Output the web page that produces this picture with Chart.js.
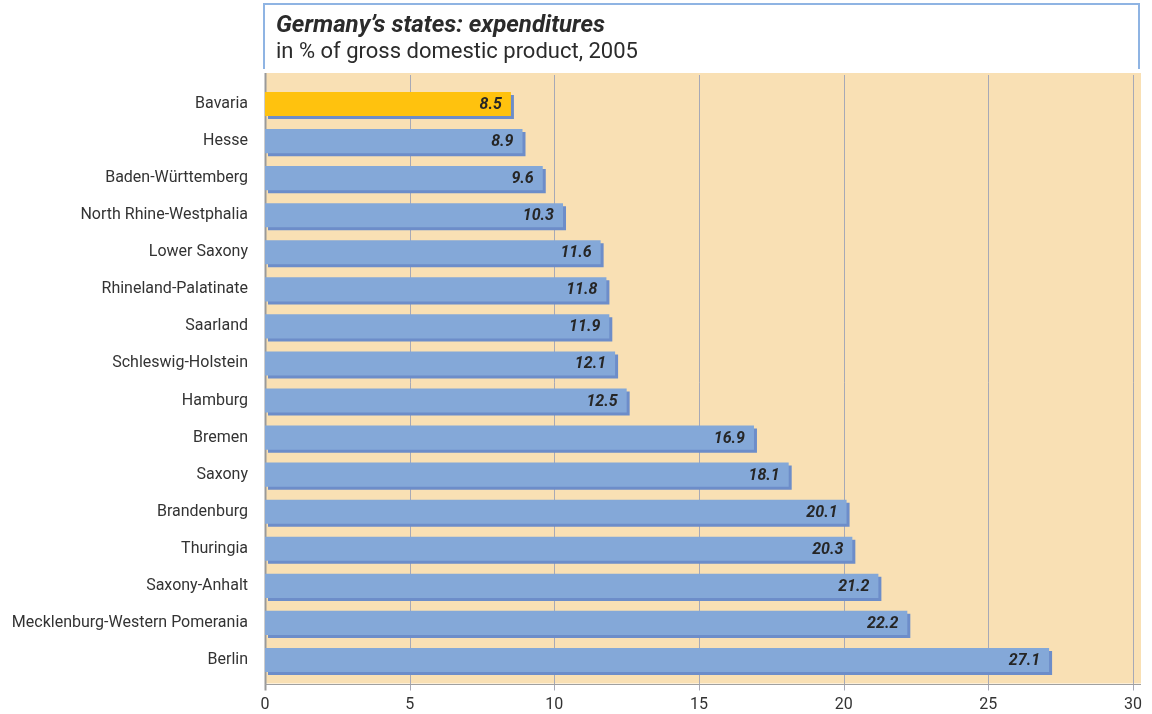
<!DOCTYPE html>
<html>
<head>
<meta charset="utf-8">
<script src="https://cdn.jsdelivr.net/npm/chart.js@4/dist/chart.umd.min.js"></script>
<style>
  html, body { margin: 0; padding: 0; background: #fff; }
  #wrap { position: relative; width: 1152px; height: 714px; }
  #title {
    position: absolute; left: 263px; top: 3px; width: 862px; height: 64px;
    border: 2px solid #8fb4e3; border-bottom: none;
    padding-left: 11px; font-family: Roboto, "Noto Sans", sans-serif; color: #2b2b2b;
  }
  #title .main { font-size: 24px; font-weight: bold; font-style: italic; line-height: 26px; margin-top: 6px; }
  #title .sub { font-size: 22px; line-height: 27px; }
  canvas { position: absolute; left: 0; top: 0; }
</style>
</head>
<body>
<div id="wrap">
  <canvas id="barChart" width="1152" height="714"></canvas>
  <div id="title">
    <div class="main">Germany’s states: expenditures</div>
    <div class="sub">in % of gross domestic product, 2005</div>
  </div>
</div>
<script>
// States and their expenditure share of GDP
const states = [
  "Bavaria", "Hesse", "Baden-Württemberg", "North Rhine-Westphalia", "Lower Saxony",
  "Rhineland-Palatinate", "Saarland", "Schleswig-Holstein", "Hamburg", "Bremen",
  "Saxony", "Brandenburg", "Thuringia", "Saxony-Anhalt", "Mecklenburg-Western Pomerania", "Berlin"
];
const expenditures = [8.5, 8.9, 9.6, 10.3, 11.6, 11.8, 11.9, 12.1, 12.5, 16.9, 18.1, 20.1, 20.3, 21.2, 22.2, 27.1];
const xTicks = [0, 5, 10, 15, 20, 25, 30];

const highlight = "Bavaria";
const barColors = states.map((s) => (s === highlight ? "#ffc20e" : "#84a8d8"));

// beige panel, vertical grid lines and bottom axis
const backdrop = {
  id: "backdrop",
  beforeDatasetsDraw(chart) {
    const { ctx, chartArea, scales } = chart;
    const top = chartArea.top - 12.5;
    const bottom = chartArea.bottom + 5;
    const right = chartArea.right + 8;
    ctx.save();
    ctx.fillStyle = "#f9e0b4";
    ctx.fillRect(chartArea.left, top, right - chartArea.left, bottom - top);
    ctx.lineWidth = 1;
    xTicks.forEach((t) => {
      const x = Math.round(scales.x.getPixelForValue(t)) + 0.5;
      ctx.strokeStyle = t === 0 ? "#9a9a9a" : "#a7a9b6";
      ctx.lineWidth = t === 0 ? 2 : 1;
      ctx.beginPath();
      ctx.moveTo(x, t === 0 ? top : top + 2);
      ctx.lineTo(x, bottom + 7);
      ctx.stroke();
    });
    ctx.strokeStyle = "#a0a0a0";
    ctx.lineWidth = 1;
    ctx.beginPath();
    ctx.moveTo(chartArea.left, Math.round(bottom) + 0.5);
    ctx.lineTo(right, Math.round(bottom) + 0.5);
    ctx.stroke();
    ctx.restore();

    // flat drop shadow under each bar
    ctx.save();
    ctx.shadowColor = "#6d8dc9";
    ctx.shadowOffsetX = 3;
    ctx.shadowOffsetY = 3;
    ctx.shadowBlur = 0;
  },
  afterDatasetsDraw(chart) {
    const { ctx } = chart;
    ctx.restore();
    ctx.save();
    ctx.font = "italic bold 16px Roboto, sans-serif";
    ctx.fillStyle = "#262626";
    ctx.textAlign = "right";
    ctx.textBaseline = "middle";
    chart.getDatasetMeta(0).data.forEach((bar, i) => {
      ctx.fillText(expenditures[i].toFixed(1), bar.x - 9, bar.y + 1);
    });
    ctx.restore();
  }
};

const barChartCtx = document.getElementById("barChart").getContext("2d");
const barChart = new Chart(barChartCtx, {
  type: "bar",
  data: {
    labels: states,
    datasets: [{
      data: expenditures,
      backgroundColor: barColors,
      borderWidth: 0,
      barPercentage: 0.65,
      categoryPercentage: 1
    }]
  },
  options: {
    indexAxis: "y",
    responsive: false,
    animation: false,
    layout: { padding: { top: 85.5, right: 19, bottom: 0, left: 0 } },
    plugins: { legend: { display: false }, tooltip: { enabled: false } },
    scales: {
      x: {
        min: 0, max: 30,
        afterFit: (s) => { s.height = 35.5; s.paddingRight = 0; },
        afterBuildTicks: (s) => { s.ticks = xTicks.map((v) => ({ value: v })); },
        grid: { display: false, drawTicks: false },
        border: { display: false },
        ticks: { padding: 17, color: "#333", font: { family: "Roboto", size: 16 } }
      },
      y: {
        afterFit: (s) => { s.width = 265; },
        grid: { display: false, drawTicks: false },
        border: { display: false },
        ticks: { padding: 17, color: "#333", font: { family: "Roboto", size: 16 } }
      }
    }
  },
  plugins: [backdrop]
});
</script>
</body>
</html>
